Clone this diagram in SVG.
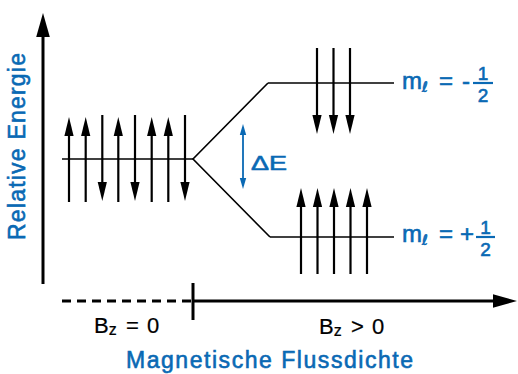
<svg xmlns="http://www.w3.org/2000/svg" width="518" height="374" viewBox="0 0 518 374">
<style>
.blue{fill:#0a69b4;stroke:#0a69b4;stroke-width:0.6;font-family:"Liberation Sans",Arial,sans-serif}
.blk{fill:#000;stroke:#000;stroke-width:0.2;font-family:"Liberation Sans",Arial,sans-serif}
.ell{font-family:"DejaVu Sans",sans-serif}
.ax{stroke:#000;stroke-width:3;fill:none}
.lvl{stroke:#000;stroke-width:1.6;fill:none}
.sp{stroke:#000;stroke-width:2.2;fill:none}
.de{stroke:#0a69b4;stroke-width:1.8;fill:none;marker-start:url(#bhead);marker-end:url(#bhead)}
</style>
<defs>
<marker id="head" markerUnits="userSpaceOnUse" markerWidth="22" markerHeight="12" viewBox="0 -6 22 12" refX="1" refY="0" orient="auto" overflow="visible">
<path d="M0,-4.6 L19,0 L0,4.6 Z" fill="#000"/>
</marker>
<marker id="bhead" markerUnits="userSpaceOnUse" markerWidth="14" markerHeight="8" viewBox="0 -4 14 8" refX="1" refY="0" orient="auto-start-reverse" overflow="visible">
<path d="M0,-3.2 L11,0 L0,3.2 Z" fill="#0a69b4"/>
</marker>
<marker id="axhead" markerUnits="userSpaceOnUse" markerWidth="26" markerHeight="16" viewBox="0 -8 26 16" refX="1" refY="0" orient="auto" overflow="visible">
<path d="M0,-6.8 L24,0 L0,6.8 Z" fill="#000"/>
</marker>
</defs>

<g id="axes">
<line class="ax" x1="43" y1="284" x2="43" y2="36" marker-end="url(#axhead)"/>
<line class="ax" x1="62" y1="301" x2="193" y2="301" stroke-dasharray="9 6"/>
<line class="ax" x1="193" y1="301" x2="494" y2="301" marker-end="url(#axhead)"/>
<line class="ax" x1="193" y1="283" x2="193" y2="320"/>
</g>

<g id="connectors">
<polyline class="lvl" points="268,83 193,159 270,237"/>
</g>

<g id="level-b0">
<line class="lvl" x1="62" y1="159" x2="193" y2="159"/>
</g>
<g id="level-minus">
<line class="lvl" x1="268" y1="83" x2="394" y2="83"/>
</g>
<g id="level-plus">
<line class="lvl" x1="270" y1="237" x2="394" y2="237"/>
</g>

<g id="spins-b0">
<line class="sp" x1="69" y1="202" x2="69" y2="135" marker-end="url(#head)"/>
<line class="sp" x1="85.7" y1="202" x2="85.7" y2="135" marker-end="url(#head)"/>
<line class="sp" x1="102.3" y1="115" x2="102.3" y2="183" marker-end="url(#head)"/>
<line class="sp" x1="118.3" y1="202" x2="118.3" y2="135" marker-end="url(#head)"/>
<line class="sp" x1="135" y1="115" x2="135" y2="183" marker-end="url(#head)"/>
<line class="sp" x1="151.7" y1="202" x2="151.7" y2="135" marker-end="url(#head)"/>
<line class="sp" x1="168.3" y1="202" x2="168.3" y2="135" marker-end="url(#head)"/>
<line class="sp" x1="185" y1="115" x2="185" y2="183" marker-end="url(#head)"/>
</g>

<g id="spins-down">
<line class="sp" x1="317" y1="48" x2="317" y2="116" marker-end="url(#head)"/>
<line class="sp" x1="333.5" y1="48" x2="333.5" y2="116" marker-end="url(#head)"/>
<line class="sp" x1="350" y1="48" x2="350" y2="116" marker-end="url(#head)"/>
</g>

<g id="spins-up">
<line class="sp" x1="301" y1="274" x2="301" y2="206" marker-end="url(#head)"/>
<line class="sp" x1="317.5" y1="274" x2="317.5" y2="206" marker-end="url(#head)"/>
<line class="sp" x1="334" y1="274" x2="334" y2="206" marker-end="url(#head)"/>
<line class="sp" x1="350.5" y1="274" x2="350.5" y2="206" marker-end="url(#head)"/>
<line class="sp" x1="367" y1="274" x2="367" y2="206" marker-end="url(#head)"/>
</g>

<g id="delta-e">
<line class="de" x1="243" y1="134" x2="243" y2="179"/>
<text class="blue" x="251" y="170" font-size="21" textLength="36" lengthAdjust="spacingAndGlyphs">ΔE</text>
</g>

<g id="label-minus">
<text class="blue" x="402" y="89" font-size="24">m<tspan class="ell" font-size="14" dy="3">ℓ</tspan><tspan dy="-3" x="439">=</tspan><tspan x="462">-</tspan></text>
<line x1="473" y1="83" x2="493" y2="83" stroke="#0a69b4" stroke-width="2.2"/>
<text class="blue" x="483" y="79.5" font-size="19" text-anchor="middle">1</text>
<text class="blue" x="483" y="102" font-size="19" text-anchor="middle">2</text>
</g>

<g id="label-plus">
<text class="blue" x="402" y="242" font-size="24">m<tspan class="ell" font-size="14" dy="3">ℓ</tspan><tspan dy="-3" x="439">=</tspan><tspan x="460">+</tspan></text>
<line x1="476" y1="237" x2="495" y2="237" stroke="#0a69b4" stroke-width="2.2"/>
<text class="blue" x="485.5" y="233.5" font-size="19" text-anchor="middle">1</text>
<text class="blue" x="485.5" y="256" font-size="19" text-anchor="middle">2</text>
</g>

<g id="label-b0">
<text class="blk" x="94" y="332.5" font-size="22">B<tspan font-size="16" dy="2">z</tspan><tspan dy="-2" x="126">=</tspan><tspan x="147">0</tspan></text>
</g>
<g id="label-bpos">
<text class="blk" x="319" y="334" font-size="22">B<tspan font-size="16" dy="2">z</tspan><tspan dy="-2" x="351">&gt;</tspan><tspan x="372">0</tspan></text>
</g>

<g id="x-title">
<text class="blue" x="126" y="368" font-size="23" textLength="287">Magnetische Flussdichte</text>
</g>
<g id="y-title">
<text class="blue" transform="translate(25,240) rotate(-90)" font-size="23" textLength="187">Relative Energie</text>
</g>
</svg>
